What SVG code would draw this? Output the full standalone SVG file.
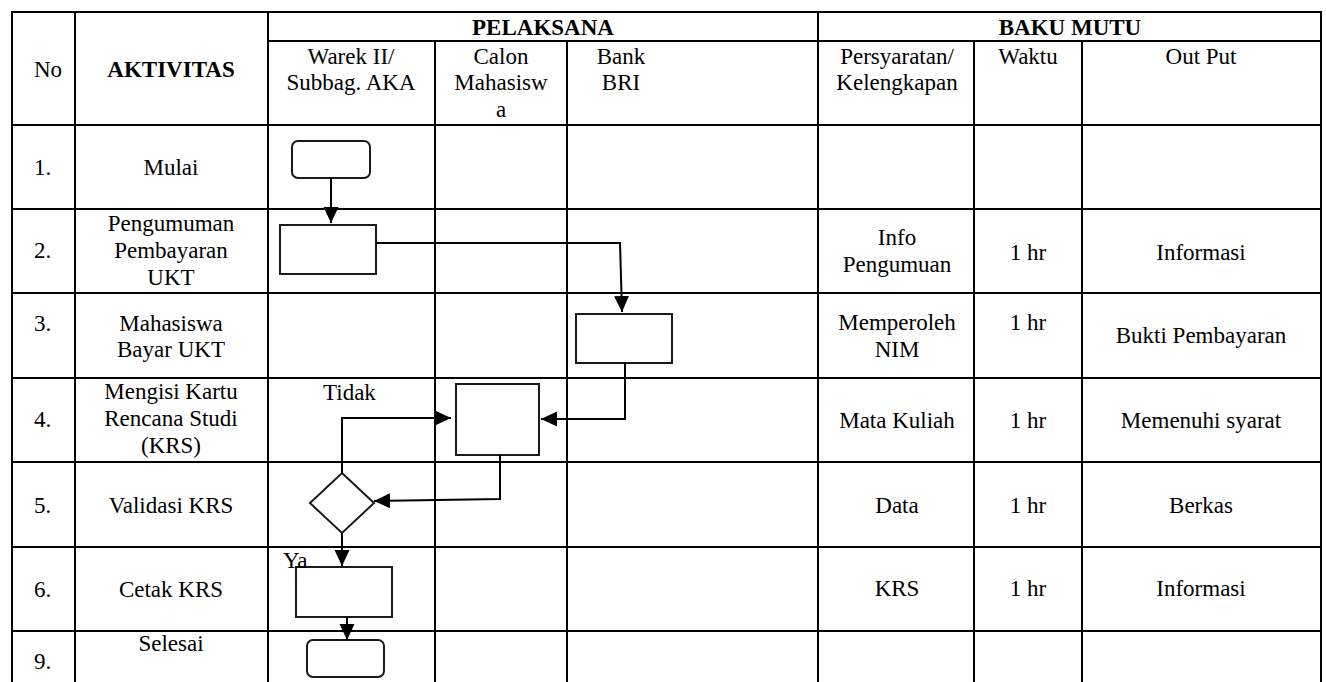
<svg xmlns="http://www.w3.org/2000/svg" width="1326" height="682" viewBox="0 0 1326 682">
<style>
text{font-family:"Liberation Serif","Times New Roman",serif;font-size:23px;fill:#000}
.b{font-weight:bold}
.c{text-anchor:middle}
.grid line{stroke:#000;stroke-width:2}
.shape{fill:#fff;stroke:#1a1a1a;stroke-width:2}
.conn path{fill:none;stroke:#000;stroke-width:2}
</style>
<defs>
<marker id="ah" markerUnits="userSpaceOnUse" markerWidth="17" markerHeight="16" refX="16" refY="7.5" orient="auto">
<path d="M0,0 L16,7.5 L0,15 Z" fill="#000"/>
</marker>
</defs>
<rect width="1326" height="682" fill="#fff"/>
<g id="table" class="grid">
<line x1="11" y1="12" x2="1322" y2="12"/>
<line x1="268" y1="41" x2="1322" y2="41"/>
<line x1="11" y1="125" x2="1322" y2="125"/>
<line x1="11" y1="209" x2="1322" y2="209"/>
<line x1="11" y1="293" x2="1322" y2="293"/>
<line x1="11" y1="378" x2="1322" y2="378"/>
<line x1="11" y1="462" x2="1322" y2="462"/>
<line x1="11" y1="547" x2="1322" y2="547"/>
<line x1="11" y1="631" x2="1322" y2="631"/>
<line x1="12" y1="11" x2="12" y2="682"/>
<line x1="75" y1="12" x2="75" y2="682"/>
<line x1="268" y1="12" x2="268" y2="682"/>
<line x1="435" y1="41" x2="435" y2="682"/>
<line x1="567" y1="41" x2="567" y2="682"/>
<line x1="818" y1="12" x2="818" y2="682"/>
<line x1="974" y1="41" x2="974" y2="682"/>
<line x1="1082" y1="41" x2="1082" y2="682"/>
<line x1="1321" y1="11" x2="1321" y2="682"/>
</g>
<g id="header">
<text class="b c" x="543" y="35">PELAKSANA</text>
<text class="b c" x="1070" y="35">BAKU MUTU</text>
<text x="34" y="77">No</text>
<text class="b c" x="171" y="77">AKTIVITAS</text>
<text class="c" x="351" y="64">Warek II/</text>
<text class="c" x="351" y="90">Subbag. AKA</text>
<text class="c" x="501" y="64">Calon</text>
<text class="c" x="501" y="90">Mahasisw</text>
<text class="c" x="501" y="117">a</text>
<text class="c" x="621" y="64">Bank</text>
<text class="c" x="621" y="90">BRI</text>
<text class="c" x="897" y="64">Persyaratan/</text>
<text class="c" x="897" y="90">Kelengkapan</text>
<text class="c" x="1028" y="64">Waktu</text>
<text class="c" x="1201" y="64">Out Put</text>
</g>
<g id="row1">
<text x="34" y="175">1.</text>
<text class="c" x="171" y="175">Mulai</text>
</g>
<g id="row2">
<text x="34" y="258">2.</text>
<text class="c" x="171" y="231">Pengumuman</text>
<text class="c" x="171" y="258">Pembayaran</text>
<text class="c" x="171" y="285">UKT</text>
<text class="c" x="897" y="245">Info</text>
<text class="c" x="897" y="272">Pengumuan</text>
<text class="c" x="1028" y="260">1 hr</text>
<text class="c" x="1201" y="260">Informasi</text>
</g>
<g id="row3">
<text x="34" y="331">3.</text>
<text class="c" x="171" y="331">Mahasiswa</text>
<text class="c" x="171" y="357">Bayar UKT</text>
<text class="c" x="897" y="330">Memperoleh</text>
<text class="c" x="897" y="357">NIM</text>
<text class="c" x="1028" y="330">1 hr</text>
<text class="c" x="1201" y="343">Bukti Pembayaran</text>
</g>
<g id="row4">
<text x="34" y="427">4.</text>
<text class="c" x="171" y="399">Mengisi Kartu</text>
<text class="c" x="171" y="426">Rencana Studi</text>
<text class="c" x="171" y="453">(KRS)</text>
<text class="c" x="897" y="428">Mata Kuliah</text>
<text class="c" x="1028" y="428">1 hr</text>
<text class="c" x="1201" y="428">Memenuhi syarat</text>
</g>
<g id="row5">
<text x="34" y="513">5.</text>
<text class="c" x="171" y="513">Validasi KRS</text>
<text class="c" x="897" y="513">Data</text>
<text class="c" x="1028" y="513">1 hr</text>
<text class="c" x="1201" y="513">Berkas</text>
</g>
<g id="row6">
<text x="34" y="597">6.</text>
<text class="c" x="171" y="597">Cetak KRS</text>
<text class="c" x="897" y="596">KRS</text>
<text class="c" x="1028" y="596">1 hr</text>
<text class="c" x="1201" y="596">Informasi</text>
</g>
<g id="row9">
<text x="34" y="669">9.</text>
<text class="c" x="171" y="651">Selesai</text>
</g>
<g id="start"><rect class="shape" x="292" y="141" width="78" height="37" rx="6"/></g>
<g id="pengumuman"><rect class="shape" x="280" y="225" width="96" height="49"/></g>
<g id="bayar"><rect class="shape" x="576" y="314" width="96" height="49"/></g>
<g id="krs"><rect class="shape" x="456" y="384" width="83" height="71"/></g>
<g id="validasi"><polygon class="shape" points="342,473 374,503 342,533 310,503"/></g>
<g id="cetak"><rect class="shape" x="296" y="567" width="96" height="50"/></g>
<g id="selesai"><rect class="shape" x="307" y="640" width="77" height="37" rx="6"/></g>
<g id="connectors" class="conn">
<path d="M331,178 V223" marker-end="url(#ah)"/>
<path d="M376,243 H620 L622,312" marker-end="url(#ah)"/>
<path d="M625,363 V419 H541" marker-end="url(#ah)"/>
<path d="M342,473 V418 H451" marker-end="url(#ah)"/>
<path d="M500,455 V499 L374,501" marker-end="url(#ah)"/>
<path d="M342,533 V566" marker-end="url(#ah)"/>
<path d="M347,617 V640" marker-end="url(#ah)"/>
<text x="323" y="400">Tidak</text>
<text x="283" y="568">Ya</text>
</g>
</svg>
